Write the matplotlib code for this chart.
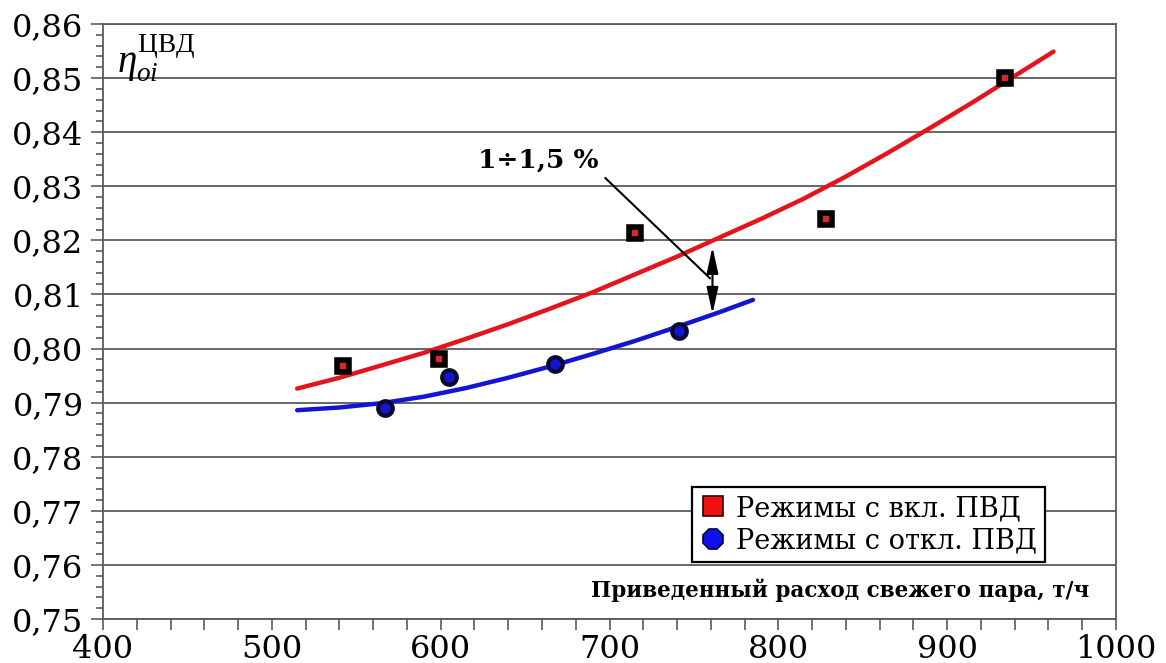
import matplotlib
matplotlib.use("Agg")
import matplotlib.pyplot as plt
from matplotlib.lines import Line2D
from matplotlib.ticker import MultipleLocator, FuncFormatter

plt.rcParams["mathtext.fontset"] = "custom"
plt.rcParams["mathtext.rm"] = "Liberation Serif"
plt.rcParams["mathtext.it"] = "Liberation Serif:italic"

# measured points
x_on = [542, 599, 715, 828, 934]
y_on = [0.7967, 0.7981, 0.8213, 0.8239, 0.8500]
x_off = [567, 605, 668, 741]
y_off = [0.7891, 0.7948, 0.7972, 0.8033]

# trend curves
curve_on_x = [515, 540, 565, 590, 615, 640, 665, 690, 715, 740, 765, 790, 815,
              840, 865, 890, 915, 940, 963]
curve_on_y = [0.7926, 0.7946, 0.7969, 0.7992, 0.8018, 0.8045, 0.8074, 0.8104,
              0.8137, 0.8170, 0.8205, 0.8240, 0.8277, 0.8318, 0.8362, 0.8408,
              0.8455, 0.8504, 0.8549]
curve_off_x = [515, 540, 565, 590, 615, 640, 665, 690, 715, 740, 765, 785]
curve_off_y = [0.7886, 0.7891, 0.7899, 0.7911, 0.7927, 0.7946, 0.7967, 0.7990,
               0.8014, 0.8040, 0.8067, 0.8090]

legend_labels = ["Режимы с вкл. ПВД", "Режимы с откл. ПВД"]
xlabel = "Приведенный расход свежего пара, т/ч"

red = "#e3141b"
blue = "#1414d2"
grid_c = "#5a5a5a"

fig = plt.figure(figsize=(11.66, 6.63), dpi=100)
ax = fig.add_axes([103 / 1166, 1 - 619 / 663, 1013 / 1166, 595 / 663])

ax.plot(curve_on_x, curve_on_y, color=red, lw=3.2, solid_capstyle="round", zorder=3)
ax.plot(curve_off_x, curve_off_y, color=blue, lw=3.2, solid_capstyle="round", zorder=3)

ax.plot(x_on, y_on, ls="none", marker="s", ms=9, mfc="#d42a2a", mec="black",
        mew=4, zorder=4)
ax.plot(x_off, y_off, ls="none", marker="o", ms=10.5, mfc=blue, mec="#0a0a30",
        mew=3, zorder=4)

ax.set_xlim(400, 1000)
ax.set_ylim(0.75, 0.86)
ax.xaxis.set_major_locator(MultipleLocator(100))
ax.xaxis.set_minor_locator(MultipleLocator(20))
ax.yaxis.set_major_locator(MultipleLocator(0.01))
ax.yaxis.set_minor_locator(MultipleLocator(0.002))
ax.yaxis.set_major_formatter(FuncFormatter(lambda v, p: f"{v:.2f}".replace(".", ",")))
ax.xaxis.set_major_formatter(FuncFormatter(lambda v, p: f"{v:.0f}"))

ax.grid(axis="y", which="major", color=grid_c, lw=1.3)
ax.set_axisbelow(True)
for s in ax.spines.values():
    s.set_color(grid_c)
    s.set_linewidth(1.3)

ax.tick_params(axis="y", which="major", direction="out", length=9, width=1.2,
               color=grid_c, pad=5, labelsize=23)
ax.tick_params(axis="y", which="minor", direction="out", length=5, width=1.2,
               color=grid_c)
ax.tick_params(axis="x", which="both", direction="out", length=8, width=1.2,
               color=grid_c, pad=3, labelsize=23)
for lab in ax.get_xticklabels() + ax.get_yticklabels():
    lab.set_family("DejaVu Serif")

# y label: eta with subscript and superscript in one text
ax.text(0.014, 0.918, r"$\eta_{oi}^{\mathrm{ЦВД}}$", transform=ax.transAxes,
        fontsize=28, va="baseline", ha="left")

# x label inside the axes
ax.text(0.974, 0.049, xlabel, transform=ax.transAxes, fontsize=15.5,
        family="DejaVu Serif", weight="bold", ha="right", va="center")

# annotation
ax.text(658, 0.8349, "1÷1,5 %", fontsize=19, family="DejaVu Serif",
        weight="bold", ha="center", va="center")
ax.plot([697.6, 759.5], [0.8315, 0.8130], color="black", lw=1.5, zorder=5)
ax.annotate("", xy=(761, 0.8188), xytext=(761, 0.8064),
            arrowprops=dict(arrowstyle="<|-|>,head_length=1.6,head_width=0.35",
                            color="black", lw=1.5, shrinkA=0, shrinkB=0),
            zorder=5)

handles = [
    Line2D([], [], ls="none", marker="s", ms=15, mfc="#ee1111", mec="#300000", mew=1.2),
    Line2D([], [], ls="none", marker="8", ms=16, mfc="#1010ee", mec="#000030", mew=1.2),
]
leg = ax.legend(handles, legend_labels, loc="upper right",
                bbox_to_anchor=(0.943, 0.245), frameon=True, fancybox=False,
                framealpha=1, edgecolor="black", handlelength=0.9,
                handletextpad=0.4, borderpad=0.3, labelspacing=0.2,
                prop={"family": "DejaVu Serif", "size": 19.5})
leg.get_frame().set_linewidth(1.6)
leg.set_zorder(6)

fig.savefig("out.png", dpi=100)
